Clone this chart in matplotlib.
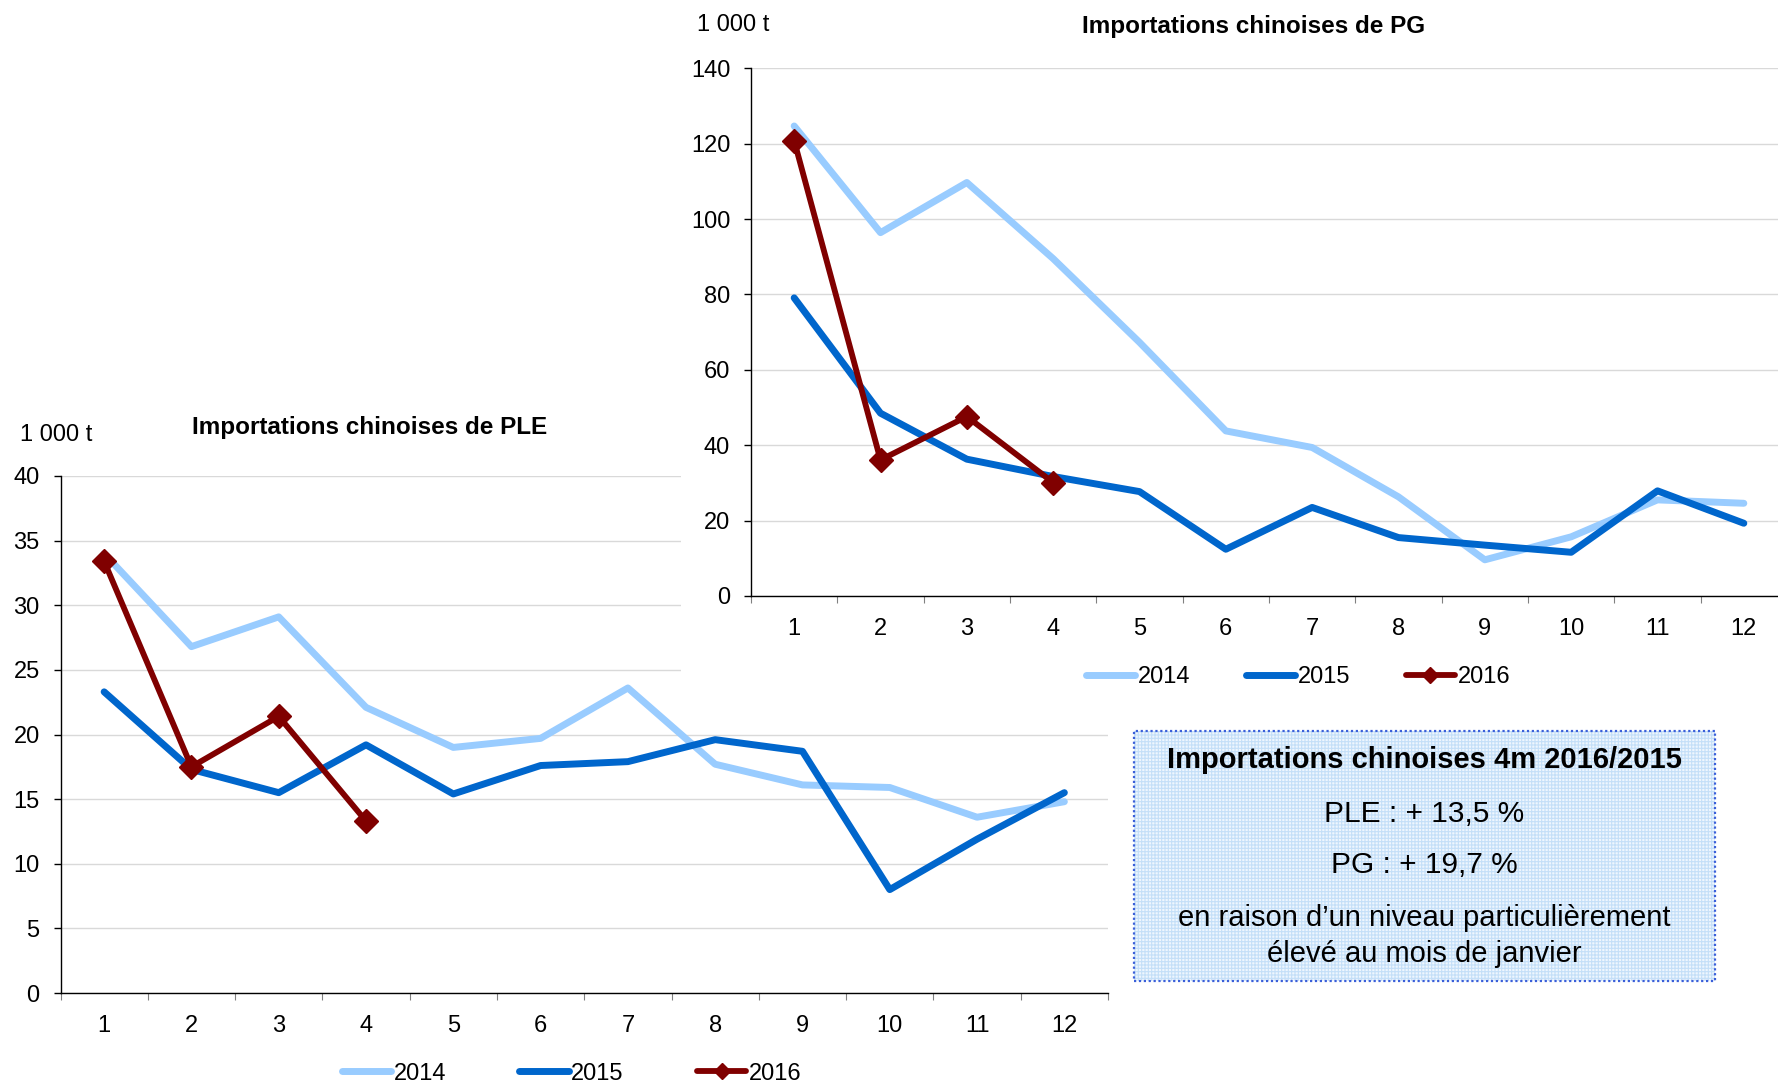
import matplotlib.pyplot as plt
from matplotlib.lines import Line2D
from matplotlib.patches import Rectangle

plt.rcParams['font.family'] = ['Liberation Sans', 'DejaVu Sans']

# data (1 000 t), months 1..12
months = list(range(1, 13))
ple_2014 = [34.0, 26.8, 29.1, 22.1, 19.0, 19.7, 23.6, 17.7, 16.1, 15.9, 13.6, 14.8]
ple_2015 = [23.3, 17.3, 15.5, 19.2, 15.4, 17.6, 17.9, 19.6, 18.7, 8.0, 11.9, 15.5]
ple_2016 = [33.4, 17.5, 21.4, 13.3]
pg_2014 = [124.7, 96.4, 109.7, 89.5, 67.3, 43.8, 39.4, 26.3, 9.6, 15.7, 25.5, 24.6]
pg_2015 = [79.1, 48.5, 36.3, 31.7, 27.7, 12.4, 23.5, 15.5, 13.5, 11.6, 27.9, 19.3]
pg_2016 = [120.8, 36.1, 47.6, 30.1]
years = ['2014', '2015', '2016']
colors = ['#99CCFF', '#0066CC', '#800000']

W, H = 1778, 1085
FS = 17


def fx(x):
    return x / W


def fy(y):
    return 1 - y / H


fig = plt.figure(figsize=(W / 100, H / 100), dpi=100)


def setup(ax, ymax, ystep):
    ax.set_xlim(0.5, 12.5)
    ax.set_ylim(0, ymax)
    ax.set_yticks(range(0, ymax + 1, ystep))
    ax.set_xticks([i + 0.5 for i in range(0, 13)])
    ax.set_xticklabels([])
    ax.set_xticks(months, minor=True)
    ax.set_xticklabels([str(m) for m in months], minor=True)
    ax.tick_params(axis='x', which='major', length=5, color='#808080', direction='out')
    ax.tick_params(axis='x', which='minor', length=0, pad=15.5, labelsize=FS)
    ax.tick_params(axis='y', length=5, width=1, direction='out', pad=10, labelsize=FS)
    ax.grid(axis='y', color='#D9D9D9', lw=1.0)
    ax.set_axisbelow(True)
    for s in ['top', 'right']:
        ax.spines[s].set_visible(False)
    for s in ['left', 'bottom']:
        ax.spines[s].set_linewidth(1.0)
        ax.spines[s].set_color('black')


def draw(ax, d14, d15, d16):
    ax.plot(months, d14, color=colors[0], lw=5, solid_capstyle='round', solid_joinstyle='round', zorder=3)
    ax.plot(months, d15, color=colors[1], lw=5, solid_capstyle='round', solid_joinstyle='round', zorder=4)
    ax.plot(months[:len(d16)], d16, color=colors[2], lw=4.2, marker='D', ms=12.5,
            solid_capstyle='round', zorder=5)


# lower chart : PLE
ax1 = fig.add_axes([fx(60.5), fy(993), fx(1108) - fx(60.5), fy(476) - fy(993)], zorder=0)
setup(ax1, 40, 5)
draw(ax1, ple_2014, ple_2015, ple_2016)

# white chart area of the upper chart hides part of the lower one
fig.add_artist(Rectangle((fx(681), fy(700)), 1 - fx(681), 1 - fy(700),
                         transform=fig.transFigure, facecolor='white', edgecolor='none', zorder=1))

# upper chart : PG
ax2 = fig.add_axes([fx(751), fy(596), fx(1787) - fx(751), fy(68.3) - fy(596)], zorder=2)
setup(ax2, 140, 20)
draw(ax2, pg_2014, pg_2015, pg_2016)

# titles and units
fig.text(fx(20), fy(441), '1 000 t', fontsize=FS, ha='left', va='baseline', zorder=3)
fig.text(fx(370), fy(434), 'Importations chinoises de PLE', fontsize=17.5, fontweight='bold',
         ha='center', va='baseline', zorder=3)
fig.text(fx(697), fy(31), '1 000 t', fontsize=FS, ha='left', va='baseline', zorder=3)
fig.text(fx(1254), fy(33), 'Importations chinoises de PG', fontsize=17.5, fontweight='bold',
         ha='center', va='baseline', zorder=3)

# legends
handles = [Line2D([], [], color=colors[0], lw=5, solid_capstyle='round'),
           Line2D([], [], color=colors[1], lw=5, solid_capstyle='round'),
           Line2D([], [], color=colors[2], lw=4.2, marker='D', ms=8, solid_capstyle='round')]
for cx, cy, csp in [(571.5, 1073.5, 3.1), (1298, 677, 2.35)]:
    leg = fig.legend(handles, years, loc='center', bbox_to_anchor=(fx(cx), fy(cy)), ncol=3,
                     frameon=False, fontsize=FS, handlelength=2.1, handletextpad=0.1,
                     columnspacing=csp, borderpad=0, borderaxespad=0)
    leg.set_zorder(3)

# text box
plt.rcParams['hatch.linewidth'] = 0.8
bx0, by0, bx1, by1 = 1134, 731, 1715, 981
fig.add_artist(Rectangle((fx(bx0), fy(by1)), fx(bx1) - fx(bx0), fy(by0) - fy(by1),
                         transform=fig.transFigure, facecolor='#EEF6FE', edgecolor='#C4DFF8',
                         hatch='+++++', lw=0, zorder=3))
fig.add_artist(Rectangle((fx(bx0), fy(by1)), fx(bx1) - fx(bx0), fy(by0) - fy(by1),
                         transform=fig.transFigure, fill=False, edgecolor='#3A5FD9',
                         lw=1.6, linestyle=(0, (1, 1.2)), zorder=4))
tx = 1424
fig.text(fx(tx), fy(768), 'Importations chinoises 4m 2016/2015', fontsize=21, fontweight='bold',
         ha='center', va='baseline', zorder=5)
fig.text(fx(tx), fy(822), 'PLE : + 13,5 %', fontsize=21.5, ha='center', va='baseline', zorder=5)
fig.text(fx(tx), fy(873), 'PG : + 19,7 %', fontsize=21.5, ha='center', va='baseline', zorder=5)
fig.text(fx(tx), fy(926.5), 'en raison d’un niveau particulièrement', fontsize=21,
         ha='center', va='baseline', zorder=5)
fig.text(fx(tx), fy(961.5), 'élevé au mois de janvier', fontsize=21,
         ha='center', va='baseline', zorder=5)

fig.savefig('out.png', dpi=100)
